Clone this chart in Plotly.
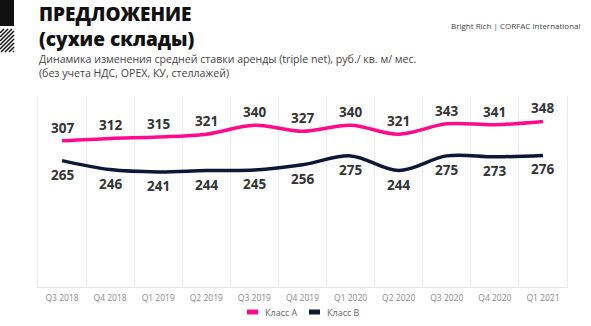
import plotly.graph_objects as go

quarters = ["Q3 2018", "Q4 2018", "Q1 2019", "Q2 2019", "Q3 2019", "Q4 2019",
            "Q1 2020", "Q2 2020", "Q3 2020", "Q4 2020", "Q1 2021"]
class_a = [307, 312, 315, 321, 340, 327, 340, 321, 343, 341, 348]
class_b = [265, 246, 241, 244, 245, 256, 275, 244, 275, 273, 276]
series_names = ["Класс А", "Класс В"]
colors = ["#FF0A8A", "#0E1836"]

W, H = 591, 326
L, R, T, B = 38, 24, 96, 39
PW, PH = W - L - R, H - T - B

def px(x):
    return (x - L) / PW

def py(y):
    return (H - B - y) / PH

xs = list(range(len(quarters)))
fig = go.Figure()
for vals, name, col in zip([class_a, class_b], series_names, colors):
    fig.add_trace(go.Scatter(x=xs, y=vals, mode="lines", name=name,
                             line=dict(color=col, width=3.5, shape="spline", smoothing=1),
                             showlegend=False, hoverinfo="skip"))

ann = []
for i, v in enumerate(class_a):
    ann.append(dict(x=i, y=v, xref="x", yref="y", text=str(v), showarrow=False,
                    yshift=13, font=dict(family="Open Sans", size=13.5, color="#333333", weight=700)))
for i, v in enumerate(class_b):
    ann.append(dict(x=i, y=v, xref="x", yref="y", text=str(v), showarrow=False,
                    yshift=-14, font=dict(family="Open Sans", size=13.5, color="#333333", weight=700)))

# titles
ann.append(dict(x=px(37), y=py(27), xref="paper", yref="paper", xanchor="left", yanchor="middle",
                text="ПРЕДЛОЖЕНИЕ<br>(сухие склады)", showarrow=False, align="left",
                font=dict(family="Open Sans", size=19, color="#111111", weight=800)))
ann.append(dict(x=px(37), y=py(66), xref="paper", yref="paper", xanchor="left", yanchor="middle",
                text="Динамика изменения средней ставки аренды (triple net), руб./ кв. м/ мес.<br>(без учета НДС, OPEX, КУ, стеллажей)",
                align="left", showarrow=False,
                font=dict(family="Open Sans", size=10.6, color="#444444")))
ann.append(dict(x=px(583), y=py(26), xref="paper", yref="paper", xanchor="right", yanchor="middle",
                text="Bright Rich | CORFAC International", showarrow=False,
                font=dict(family="Open Sans", size=8, color="#444444")))

shapes = []
# logo
shapes.append(dict(type="rect", xref="paper", yref="paper", x0=px(0), x1=px(14), y0=py(26), y1=py(0),
                   fillcolor="#111111", line=dict(width=0), layer="above"))
# hatch stripes within x 0..14, y 29..52
x0, x1, y0, y1 = 0, 14, 29, 52
step = 4
c = y0 - 14
while c < y1 + 14:
    s = c + 14
    pts = []
    for xx in (x0, x1):
        yy = s - xx
        if y0 <= yy <= y1:
            pts.append((xx, yy))
    for yy in (y0, y1):
        xx = s - yy
        if x0 <= xx <= x1:
            pts.append((xx, yy))
    if len(pts) >= 2:
        pts = sorted(set(pts))
        (ax, ay), (bx, by) = pts[0], pts[-1]
        shapes.append(dict(type="line", xref="paper", yref="paper", x0=px(ax), y0=py(ay),
                           x1=px(bx), y1=py(by), line=dict(color="#111111", width=1.5)))
    c += step

# custom legend
leg_y = 312
legend_items = [(245, series_names[0], colors[0]), (307, series_names[1], colors[1])]
for lx, name, col in legend_items:
    shapes.append(dict(type="line", xref="paper", yref="paper", x0=px(lx + 2), x1=px(lx + 13),
                       y0=py(leg_y), y1=py(leg_y), line=dict(color=col, width=5)))
    ann.append(dict(x=px(lx + 18), y=py(leg_y), xref="paper", yref="paper", xanchor="left",
                    yanchor="middle", text=name, showarrow=False,
                    font=dict(family="Open Sans", size=9, color="#666666")))

fig.update_layout(
    width=W, height=H, margin=dict(l=L, r=R, t=T, b=B),
    paper_bgcolor="white", plot_bgcolor="white",
    annotations=ann, shapes=shapes, showlegend=False,
    xaxis=dict(range=[-0.5, len(quarters) - 0.5], tickvals=xs, ticktext=quarters,
               showgrid=False, zeroline=False, showline=True, linecolor="#e6e6e6", linewidth=1,
               ticks="outside", ticklen=3, tickcolor="rgba(0,0,0,0)",
               tickfont=dict(family="Open Sans", size=8.5, color="#8a8a8a"),
               minor=dict(tickvals=[i + 0.5 for i in range(-1, len(quarters))], showgrid=True,
                          gridcolor="#ececec", gridwidth=1, ticks="")),
    yaxis=dict(range=[-3, 402], showgrid=False, zeroline=False, showticklabels=False,
               showline=True, mirror=True, linecolor="#ececec", linewidth=1, ticks=""),
)
fig.write_html("out.html")
